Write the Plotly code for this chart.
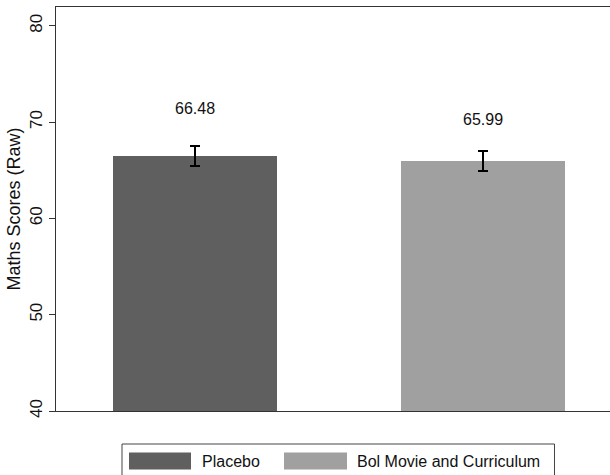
import plotly.graph_objects as go

# Mean maths scores by treatment group, with confidence half-widths
groups = ["Placebo", "Bol Movie and Curriculum"]
means = [66.48, 65.99]
ci_half = [1.0, 1.03]
bar_colors = ["#5f5f5f", "#a0a0a0"]
y_ticks = [40, 50, 60, 70, 80]

W, H = 610, 475
ML, MT, MR, MB = 56, 7, 0, 64
PW, PH = W - ML - MR, H - MT - MB

fig = go.Figure()
for i, (g, m, e, c) in enumerate(zip(groups, means, ci_half, bar_colors)):
    fig.add_trace(go.Bar(
        x=[i], y=[m], name=g, width=0.57,
        marker=dict(color=c, line=dict(color=c, width=0)),
        error_y=dict(type="data", array=[e], color="black", thickness=2, width=5),
        showlegend=False,
    ))

# value labels above each bar
label_offsets = [4.97, 4.25]
for i, (m, off) in enumerate(zip(means, label_offsets)):
    fig.add_annotation(x=i, y=m + off, text=f"{m:.2f}", showarrow=False,
                       font=dict(size=16, color="#111"), xanchor="center", yanchor="middle")


def px_x(px):
    return (px - ML) / PW


def px_y(py):
    return (MT + PH - py) / PH


# legend drawn as a framed box below the plot
shapes = [dict(type="rect", xref="paper", yref="paper",
               x0=px_x(122), x1=px_x(554.5), y0=px_y(482), y1=px_y(444),
               line=dict(color="#444", width=1), fillcolor="white", layer="above")]
legend_items = [(129, 191, 200), (284, 347, 355)]
for (sx0, sx1, tx), g, c in zip(legend_items, groups, bar_colors):
    shapes.append(dict(type="rect", xref="paper", yref="paper",
                       x0=px_x(sx0), x1=px_x(sx1), y0=px_y(469.5), y1=px_y(452.5),
                       line=dict(color=c, width=0), fillcolor=c, layer="above"))
    fig.add_annotation(xref="paper", yref="paper", x=px_x(tx), y=px_y(461.5),
                       text=g, showarrow=False, xanchor="left", yanchor="middle",
                       font=dict(size=16, color="#111"))

fig.update_layout(
    width=W, height=H,
    margin=dict(l=ML, r=MR, t=MT, b=MB),
    paper_bgcolor="white", plot_bgcolor="white",
    font=dict(family="Liberation Sans, Arial, sans-serif", color="#111"),
    shapes=shapes,
    bargap=0,
)
fig.update_xaxes(range=[-0.4816, 1.4420], showticklabels=False, ticks="",
                 showgrid=False, zeroline=False, showline=True, mirror=True,
                 linecolor="#333", linewidth=1.2)
fig.update_yaxes(range=[40, 81.95], tickvals=y_ticks, ticks="outside", ticklen=6,
                 tickcolor="#333", tickangle=-90, tickfont=dict(size=17),
                 showgrid=False, zeroline=False, showline=True, linecolor="#333",
                 linewidth=1.2,
                 title=dict(text="Maths Scores (Raw)", font=dict(size=18), standoff=1))

fig.write_html("out.html")
